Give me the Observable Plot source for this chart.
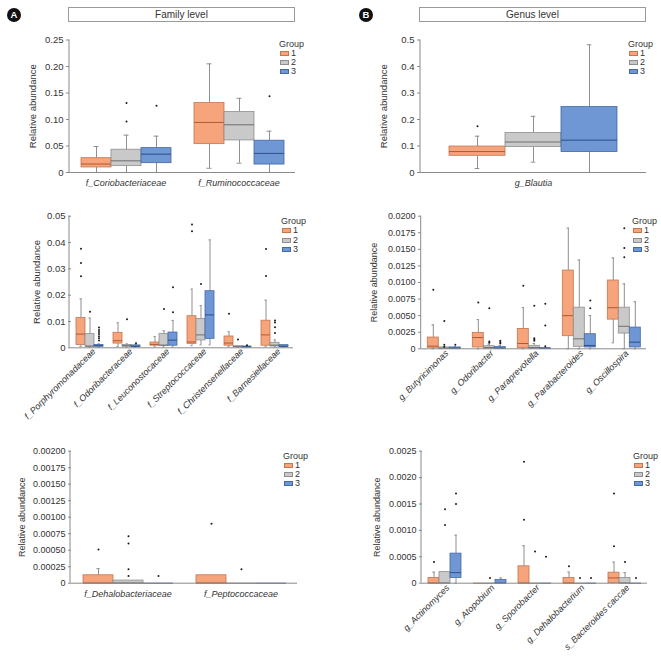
<!DOCTYPE html>
<html><head><meta charset="utf-8">
<script src="https://cdn.jsdelivr.net/npm/d3@7"></script>
<script src="https://cdn.jsdelivr.net/npm/@observablehq/plot@0.6"></script>
<style>
body{margin:0;background:#fff;}
#root{position:relative;width:661px;height:661px;overflow:hidden;font-family:"Liberation Sans",Arial,sans-serif;color:#333;}
.badge{position:absolute;width:14px;height:14px;border-radius:50%;background:#111;color:#fff;font-weight:bold;font-size:9.5px;line-height:14px;text-align:center;}
.title{position:absolute;border:1px solid #9a9a9a;box-sizing:border-box;text-align:center;font-size:10px;line-height:13px;color:#333;background:#fff}
.leg{position:absolute;font-size:9px;line-height:9px;color:#333;white-space:nowrap}
.sw{position:absolute;width:9px;height:5px;box-sizing:border-box;border:1px solid}
</style></head>
<body><div id="root"></div>
<script>
const groups = ["1", "2", "3"];
const fills = ["#F5A47C", "#C9C9C9", "#6E97D4"];
const strokes = ["#C4764F", "#8E8E8E", "#4468A6"];
const medColors = ["#B4582E", "#6E6E6E", "#2E4E88"];
const whisk = "#8f8f8f";

// ---- Panel A (top): family level
const famTopCats = ["f_Coriobacteriaceae", "f_Ruminococcaceae"];
const famTopLo  = [[0, 0, 0], [0.008, 0.0176, 0]];
const famTopQ1  = [[0.0095, 0.012, 0.0176], [0.0535, 0.0605, 0.015]];
const famTopMed = [[0.016, 0.022, 0.0346], [0.0945, 0.09, 0.036]];
const famTopQ3  = [[0.027, 0.043, 0.046], [0.131, 0.114, 0.06]];
const famTopHi  = [[0.049, 0.0705, 0.0686], [0.205, 0.14, 0.078]];
const famTopOut = [[[], [0.096, 0.131], [0.126]], [[], [], [0.144]]];
const famTopTicks = [0, 0.05, 0.1, 0.15, 0.2, 0.25];

// ---- Panel B (top): genus level
const genTopCats = ["g_Blautia"];
const genTopLo  = [[0.015, 0.039, 0]];
const genTopQ1  = [[0.063, 0.096, 0.077]];
const genTopMed = [[0.079, 0.115, 0.122]];
const genTopQ3  = [[0.098, 0.149, 0.247]];
const genTopHi  = [[0.137, 0.212, 0.482]];
const genTopOut = [[[0.175], [], []]];
const genTopTicks = [0, 0.1, 0.2, 0.3, 0.4, 0.5];

// ---- Panel A (middle)
const famMidCats = ["f_Porphyromonadaceae", "f_Odoribacteraceae", "f_Leuconostocaceae", "f_Streptococcaceae", "f_Christensenellaceae", "f_Barnesiellaceae"];
const famMidLo  = [[0.0005, 0.0002, 0.0002], [0.0005, 0.0002, 0.0002], [0.0004, 0.0004, 0.0004], [0.0008, 0.0011, 0.0011], [0.0004, 0.0002, 0.0002], [0.0004, 0.0002, 0.0002]];
const famMidQ1  = [[0.0011, 0.0005, 0.0004], [0.0016, 0.0004, 0.0003], [0.0008, 0.0008, 0.0008], [0.0015, 0.0028, 0.0034], [0.0008, 0.0003, 0.0002], [0.0008, 0.0005, 0.0003]];
const famMidMed = [[0.0052, 0.0006, 0.0008], [0.0027, 0.0008, 0.0006], [0.0013, 0.001, 0.0029], [0.0022, 0.0049, 0.0125], [0.0018, 0.0004, 0.0003], [0.0049, 0.001, 0.0006]];
const famMidQ3  = [[0.0113, 0.0052, 0.0011], [0.0057, 0.0011, 0.0009], [0.002, 0.0052, 0.0058], [0.012, 0.0109, 0.0215], [0.0043, 0.0006, 0.0005], [0.0103, 0.0019, 0.001]];
const famMidHi  = [[0.0186, 0.0113, 0.0015], [0.0095, 0.0015, 0.0013], [0.0043, 0.0065, 0.0104], [0.0223, 0.016, 0.041], [0.0061, 0.0007, 0.0006], [0.0181, 0.003, 0.001]];
const famMidOut = [
  [[0.0272, 0.0322, 0.0376], [0.0137], [0.0028, 0.0036, 0.0044, 0.0052, 0.006, 0.0068, 0.0077]],
  [[], [0.0108], [0.0017]],
  [[], [0.0147], [0.0135, 0.023]],
  [[0.0443, 0.0468], [0.0242], []],
  [[0.0129], [0.0032], [0.001]],
  [[0.0273, 0.0375], [0.0056, 0.0078, 0.0096, 0.0104], []]
];
const famMidTicks = [0, 0.01, 0.02, 0.03, 0.04, 0.05];

// ---- Panel B (middle)
const genMidCats = ["g_Butyricimonas", "g_Odoribacter", "g_Paraprevotella", "g_Parabacteroides", "g_Oscillospira"];
const genMidLo  = [[0, 0, 0], [0, 0, 0], [0, 0, 0], [0, 0, 0], [0.0009, 0, 0]];
const genMidQ1  = [[0.00015, 0, 0], [0.0002, 0, 0], [0.0001, 0, 0], [0.0019, 0.0003, 0.0002], [0.0044, 0.0023, 0.0002]];
const genMidMed = [[0.0004, 0.0001, 0.0001], [0.0017, 0.0002, 0.0001], [0.0008, 0.0002, 0.00005], [0.005, 0.0015, 0.0005], [0.0062, 0.0034, 0.001]];
const genMidQ3  = [[0.0017, 0.0002, 0.0002], [0.0024, 0.0004, 0.00025], [0.003, 0.00045, 0.0001], [0.0118, 0.0062, 0.0022], [0.0103, 0.0062, 0.0032]];
const genMidHi  = [[0.0036, 0.0003, 0.0003], [0.0044, 0.0007, 0.0005], [0.0062, 0.0008, 0.0002], [0.0182, 0.0134, 0.005], [0.0137, 0.0098, 0.0071]];
const genMidOut = [
  [[0.0089], [0.0042, 0.0006, 0.0003], [0.0006]],
  [[0.007], [0.0061, 0.0011, 0.0009], [0.0012, 0.001, 0.0008]],
  [[0.0095], [0.0065, 0.0016, 0.0014, 0.0012], [0.0068, 0.0035, 0.0004]],
  [[], [], [0.0061, 0.0073]],
  [[], [0.0138, 0.0152, 0.0182], []]
];
const genMidTicks = [0, 0.0025, 0.005, 0.0075, 0.01, 0.0125, 0.015, 0.0175, 0.02];

// ---- Panel A (bottom)
const famBotCats = ["f_Dehalobacteriaceae", "f_Peptococcaceae"];
const famBotLo  = [[0, 0, 0], [0, 0, 0]];
const famBotQ1  = [[0, 0, 0], [0, 0, 0]];
const famBotMed = [[0, 0, 0], [0, 0, 0]];
const famBotQ3  = [[0.00012, 0.00004, 0], [0.00012, 0, 0]];
const famBotHi  = [[0.00022, 0.00004, 0], [0.00012, 0, 0]];
const famBotOut = [[[0.00051], [0.00011, 0.00021, 0.0006, 0.00071], [0.00011]], [[0.0009], [0.00021], []]];
const famBotTicks = [0, 0.00025, 0.0005, 0.00075, 0.001, 0.00125, 0.0015, 0.00175, 0.002];

// ---- Panel B (bottom)
const genBotCats = ["g_Actinomyces", "g_Atopobium", "g_Sporobacter", "g_Dehalobacterium", "s_Bacteroides caccae"];
const genBotLo  = [[0, 0, 0], [0, 0, 0], [0, 0, 0], [0, 0, 0], [0, 0, 0]];
const genBotQ1  = [[0, 0, 0.0001], [0, 0, 0], [0, 0, 0], [0, 0, 0], [0, 0, 0]];
const genBotMed = [[0, 0, 0.0002], [0, 0, 0], [0, 0, 0], [0, 0, 0], [0.0001, 0, 0]];
const genBotQ3  = [[0.0001, 0.00021, 0.00056], [0, 0, 0.00006], [0.00032, 0, 0], [0.0001, 0, 0], [0.0002, 0.0001, 0]];
const genBotHi  = [[0.00021, 0.00021, 0.00091], [0, 0, 0.0001], [0.00071, 0, 0], [0.00021, 0, 0], [0.0004, 0.0002, 0]];
const genBotOut = [
  [[0.0004], [0.0011, 0.0014], [0.0015, 0.0017]],
  [[], [0.0001], []],
  [[0.0012, 0.0023], [0.0006], [0.0005]],
  [[0.00032], [0.0001], [0.0001]],
  [[0.0007, 0.0017], [0.0004], [0.0001]]
];
const genBotTicks = [0, 0.0005, 0.001, 0.0015, 0.002, 0.0025];

const root = document.getElementById("root");
const FONT = '"Liberation Sans", Arial, sans-serif';

function fmt(n) { return d => d === 0 ? "0" : d.toFixed(n); }

function panel(p) {
  const rows = p.cats.flatMap((c, i) => groups.map((g, j) => ({
    cat: c, grp: g, lo: p.lo[i][j], q1: p.q1[i][j], med: p.med[i][j], q3: p.q3[i][j], hi: p.hi[i][j]
  })));
  const outs = p.cats.flatMap((c, i) => groups.flatMap((g, j) => p.out[i][j].map(v => ({cat: c, grp: g, v}))));
  const [L, T, W, H, ml, mr, mt, mb] = p.box;
  const facetW = (W - ml - mr) / p.cats.length;
  const bw = facetW / (3 + 2 * p.pad);
  const inset = Math.max(0, (bw - p.cap) / 2);
  const ch = {fx: "cat", x: "grp"};
  const ymax = p.ticks[p.ticks.length - 1];
  const marks = [
    Plot.ruleX(rows, {...ch, y1: "lo", y2: "q1", stroke: whisk}),
    Plot.ruleX(rows, {...ch, y1: "q3", y2: "hi", stroke: whisk}),
    Plot.tickY(rows.filter(d => d.hi > d.q3), {...ch, y: "hi", stroke: whisk, insetLeft: inset, insetRight: inset}),
    Plot.tickY(rows.filter(d => d.lo < d.q1), {...ch, y: "lo", stroke: whisk, insetLeft: inset, insetRight: inset})
  ];
  groups.forEach((g, j) => {
    const r = rows.filter(d => d.grp === g);
    marks.push(Plot.barY(r.filter(d => d.q3 > d.q1), {...ch, y1: "q1", y2: "q3", fill: fills[j], stroke: strokes[j], strokeWidth: 0.8}));
    marks.push(Plot.tickY(r, {...ch, y: "med", stroke: medColors[j], strokeWidth: 1}));
  });
  marks.push(Plot.ruleY([0], {stroke: "#8a8a8a"}));
  marks.push(Plot.dot(outs, {...ch, y: "v", r: 1, fill: "#1a1a1a"}));
  marks.push(Plot.axisY({
    ticks: p.ticks, tickFormat: p.fmt, tickSize: 3, tickPadding: 3, stroke: "#888", fill: "#333",
    label: "Relative abundance", labelAnchor: "center", labelOffset: p.labOff, labelArrow: "none",
    fontSize: p.tickFont
  }));
  marks.push(Plot.axisFx({
    anchor: "bottom", tickSize: 0, tickPadding: p.fxPad, tickRotate: p.rot, label: null,
    fontStyle: "italic", fill: "#333", fontSize: 9, dx: p.fxDx
  }));
  const plot = Plot.plot({
    width: W, height: H, marginLeft: ml, marginRight: mr, marginTop: mt, marginBottom: mb,
    fx: {domain: p.cats, padding: 0},
    x: {domain: groups, paddingInner: 0, paddingOuter: p.pad, axis: null},
    y: {domain: [0, ymax]},
    style: {fontFamily: FONT, fontSize: "9px", color: "#333", background: "transparent", overflow: "visible"},
    marks
  });
  const ys = plot.scale("y");
  d3.select(plot).append("line")
    .attr("x1", ml).attr("x2", ml)
    .attr("y1", ys.apply(ymax)).attr("y2", ys.apply(0))
    .attr("stroke", "#8a8a8a");
  plot.style.position = "absolute";
  plot.style.left = L + "px";
  plot.style.top = T + "px";
  root.appendChild(plot);
}

function legend(x, y) {
  const t = document.createElement("div");
  t.className = "leg"; t.textContent = "Group";
  t.style.left = x + "px"; t.style.top = (y - 4.5) + "px";
  root.appendChild(t);
  groups.forEach((g, j) => {
    const cy = y + 9.2 * (j + 1);
    const s = document.createElement("div");
    s.className = "sw";
    s.style.left = (x + 1) + "px"; s.style.top = (cy - 2.5) + "px";
    s.style.background = fills[j]; s.style.borderColor = strokes[j];
    root.appendChild(s);
    const l = document.createElement("div");
    l.className = "leg"; l.textContent = g;
    l.style.left = (x + 12) + "px"; l.style.top = (cy - 4.5) + "px";
    root.appendChild(l);
  });
}

function badge(x, y, letter) {
  const b = document.createElement("div");
  b.className = "badge"; b.textContent = letter;
  b.style.left = x + "px"; b.style.top = y + "px";
  root.appendChild(b);
}
function title(x, y, w, text) {
  const b = document.createElement("div");
  b.className = "title"; b.textContent = text;
  b.style.left = x + "px"; b.style.top = y + "px"; b.style.width = w + "px"; b.style.height = "15px";
  root.appendChild(b);
}

panel({cats: famTopCats, lo: famTopLo, q1: famTopQ1, med: famTopMed, q3: famTopQ3, hi: famTopHi, out: famTopOut,
  ticks: famTopTicks, fmt: fmt(2), box: [0, 0, 330, 200, 69, 35, 39.5, 28], pad: 0.38, cap: 5, rot: 0, fxPad: 7, fxDx: 0, labOff: 40, tickFont: 9.5});
panel({cats: genTopCats, lo: genTopLo, q1: genTopQ1, med: genTopMed, q3: genTopQ3, hi: genTopHi, out: genTopOut,
  ticks: genTopTicks, fmt: fmt(1), box: [330, 0, 331, 200, 90, 15, 39.5, 28], pad: 0.5, cap: 5, rot: 0, fxPad: 7, fxDx: 0, labOff: 40, tickFont: 9.5});
panel({cats: famMidCats, lo: famMidLo, q1: famMidQ1, med: famMidMed, q3: famMidQ3, hi: famMidHi, out: famMidOut,
  ticks: famMidTicks, fmt: fmt(2), box: [0, 200, 330, 240, 69, 35, 15.7, 92.7], pad: 0.38, cap: 3, rot: -45, fxPad: 2, fxDx: 4, labOff: 38, tickFont: 9.5});
panel({cats: genMidCats, lo: genMidLo, q1: genMidQ1, med: genMidMed, q3: genMidQ3, hi: genMidHi, out: genMidOut,
  ticks: genMidTicks, fmt: fmt(4), box: [330, 200, 331, 240, 90.7, 15, 15.7, 91.7], pad: 0.46, cap: 3, rot: -45, fxPad: 3, fxDx: 3, labOff: 51, tickFont: 9});
panel({cats: famBotCats, lo: famBotLo, q1: famBotQ1, med: famBotMed, q3: famBotQ3, hi: famBotHi, out: famBotOut,
  ticks: famBotTicks, fmt: fmt(5), box: [0, 440, 330, 221, 70, 33, 10.7, 78.3], pad: 0.35, cap: 4, rot: 0, fxPad: 7, fxDx: 0, labOff: 53, tickFont: 9});
panel({cats: genBotCats, lo: genBotLo, q1: genBotQ1, med: genBotMed, q3: genBotQ3, hi: genBotHi, out: genBotOut,
  ticks: genBotTicks, fmt: fmt(4), box: [330, 440, 331, 221, 91, 13, 10.7, 78.3], pad: 0.45, cap: 3, rot: -45, fxPad: 3, fxDx: 3, labOff: 49, tickFont: 9});

legend(279, 44); legend(628, 44);
legend(281, 221.7); legend(632, 221.7);
legend(283, 456); legend(633, 456);

badge(7, 8, "A"); badge(359, 8, "B");
title(68, 7, 227, "Family level");
title(419, 7, 227, "Genus level");
</script></body></html>
